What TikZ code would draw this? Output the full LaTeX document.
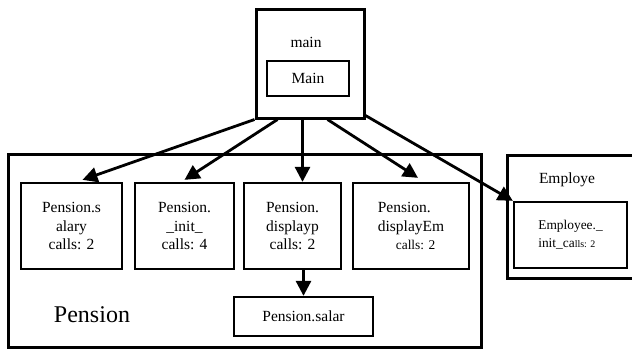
\documentclass[tikz,border=0pt]{standalone}
\usepackage{fontspec}
\setmainfont{Liberation Serif}
\usepackage{tikz}
\usetikzlibrary{arrows.meta, positioning}

\begin{document}
\begin{tikzpicture}[x=1pt, y=-1pt,
    every node/.append style={font=\fontsize{15.5}{18.3}\selectfont},
    outer/.style={draw, line width=3pt, inner sep=0pt},
    box/.style={draw, line width=2.3pt, inner sep=0pt, minimum height=86pt, align=center},
    arr/.style={-{Triangle[length=15pt, width=15pt]}, line width=2.8pt},
]

\useasboundingbox (0,0) rectangle (632,349);
\clip (0,0) rectangle (632,349);

% main module
\node[outer, minimum width=108pt, minimum height=109pt] (mainmod) at (310,63.5) {};
\node (mainlbl) at (306,42) {main};
\node[draw, line width=2.3pt, minimum width=82pt, minimum height=35pt, inner sep=0pt] (mainfn) at (308,78.5) {Main};

% Pension module
\node[outer, minimum width=473pt, minimum height=193pt] (pension) at (244.5,250.5) {};
\node[font=\fontsize{24}{28}\selectfont] (penlbl) at (92,315) {Pension};

\node[box, minimum width=101pt] (salary) at (71.5,226) {Pension.s\\alary\\calls: 2};
\node[box, minimum width=99pt] (init) at (184.5,226) {Pension.\\\_init\_\\calls: 4};
\node[box, minimum width=97pt] (dispp) at (292.5,226) {Pension.\\displayp\\calls: 2};
\node[box, minimum width=116pt, align=left] (dispem) at (411,226)
    {Pension.\\displayEm\\\hspace*{18pt}{\fontsize{13.4}{16}\selectfont calls: 2}};
\node[draw, line width=2.3pt, inner sep=0pt, minimum width=139pt, minimum height=39pt] (salar) at (303.5,316.5) {Pension.salar};

% Employe module
\node[outer, minimum width=143pt, minimum height=123pt] (employe) at (578.5,216.5) {};
\node (emplbl) at (567,180) {Employe};
\node[draw, line width=2.3pt, inner sep=0pt, minimum width=113pt, minimum height=66pt, align=left,
    font=\fontsize{13.4}{18}\selectfont] (empinit) at (570.5,235)
    {Employee.\_\\init\_ca{\fontsize{10}{12}\selectfont lls: 2}};

\draw[arr] (mainmod.south west) -- ([xshift=11pt, yshift=2pt]salary.north);
\draw[arr] ([xshift=23pt]mainmod.south west) -- ([yshift=2pt]init.north);
\draw[arr] ([xshift=48pt]mainmod.south west) -- ([xshift=48pt]mainmod.south west |- dispp.north);
\draw[arr] ([xshift=73pt]mainmod.south west) -- ([xshift=7pt, yshift=4pt]dispem.north);
\draw[arr] ([yshift=4pt]mainmod.south east) -- (empinit.north west);
\draw[arr] (dispp.south -| salar.north) -- (salar.north);

\end{tikzpicture}
\end{document}
